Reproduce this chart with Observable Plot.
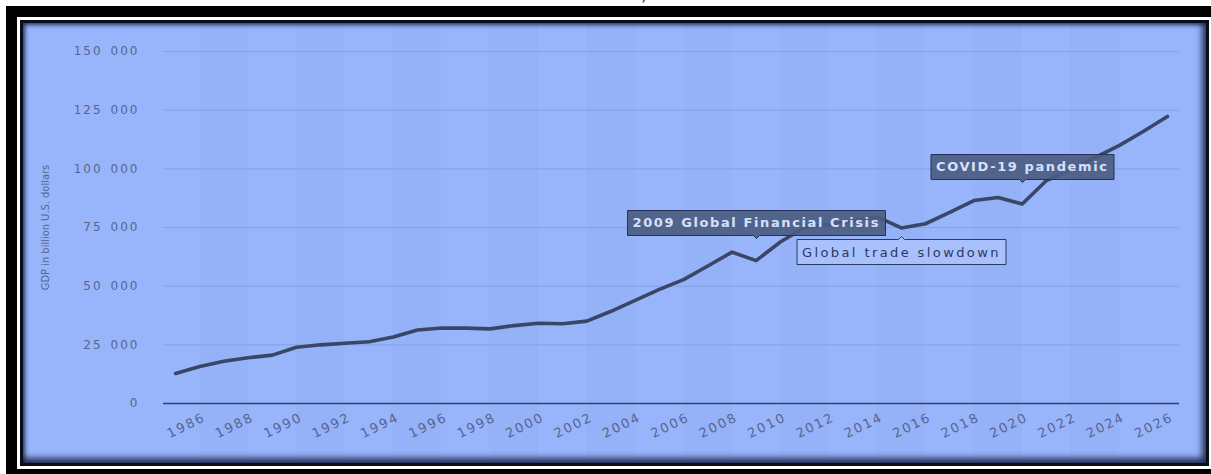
<!DOCTYPE html>
<html>
<head>
<meta charset="utf-8">
<script src="https://cdn.jsdelivr.net/npm/d3@7"></script>
<script src="https://cdn.jsdelivr.net/npm/@observablehq/plot@0.6"></script>
<style>
  html, body { margin: 0; padding: 0; background: #fff; width: 1211px; height: 474px; overflow: hidden; position: relative; }
  #frag { position: absolute; left: 641px; top: -15px; font: 16px "DejaVu Sans", sans-serif; color: #222; }
  #outer { position: absolute; left: 6px; top: 6px; width: 1215px; height: 480px; background: #000; }
  #gap { position: absolute; left: 17px; top: 17px; width: 1195px; height: 452px; background: #fff; }
  #inner { position: absolute; left: 20px; top: 20px; width: 1189px; height: 446px; background: #0a0e18; }
  #panel { position: absolute; left: 23px; top: 23px; width: 1183px; height: 440px; background: #98b5fb; overflow: hidden;
           box-shadow: inset -6px -7px 6px -2px rgba(25,35,70,.9), inset 3px 3px 4px -1px rgba(25,35,70,.9); }
  #panel svg { position: absolute; left: 0; top: 0; }
  g[aria-label="y-axis tick label"] text { letter-spacing: 2px; }
  g[aria-label="x-axis tick label"] text { letter-spacing: 2px; }
</style>
</head>
<body>
<div id="frag">)</div>
<div id="outer"></div>
<div id="gap"></div>
<div id="inner"></div>
<div id="panel"></div>
<script>
// ---- data ----
const years = [1985, 1986, 1987, 1988, 1989, 1990, 1991, 1992, 1993, 1994, 1995, 1996, 1997, 1998,
  1999, 2000, 2001, 2002, 2003, 2004, 2005, 2006, 2007, 2008, 2009, 2010, 2011, 2012, 2013, 2014,
  2015, 2016, 2017, 2018, 2019, 2020, 2021, 2022, 2023, 2024, 2025, 2026];
const gdp = [12800, 15800, 18000, 19500, 20600, 24000, 25000, 25700, 26300, 28300, 31300, 32200,
  32100, 31800, 33200, 34200, 34000, 35100, 39300, 43900, 48600, 52800, 58600, 64500, 60900,
  68800, 75000, 76300, 77800, 79500, 74800, 76600, 81400, 86500, 87800, 85000, 95000, 99700,
  104800, 109900, 115900, 122300];
const xTickYears = [1986, 1988, 1990, 1992, 1994, 1996, 1998, 2000, 2002, 2004, 2006, 2008, 2010,
  2012, 2014, 2016, 2018, 2020, 2022, 2024, 2026];
const yTicks = [0, 25000, 50000, 75000, 100000, 125000, 150000];
const stripeStarts = [1986, 1990, 1994, 1998, 2002, 2006, 2010, 2014, 2018, 2022];
const annotationYears = [2009, 2015, 2020];
const annotationLabels = ["2009 Global Financial Crisis", "Global trade slowdown", "COVID-19 pandemic"];
const yTitle = "GDP in billion U.S. dollars";

// ---- derived tables ----
const series = years.map((year, i) => ({year, gdp: gdp[i]}));
const valueAt = (y) => gdp[years.indexOf(y)];
const annotations = annotationYears.map((year, i) => ({year, gdp: valueAt(year), label: annotationLabels[i]}));
const fmtY = (d) => d3.format(",")(d).replace(/,/g, "\u2002");

const labelColor = "#56658f";
const darkTip = {fill: "#4c5c82", fillOpacity: 0.92, stroke: "#25325a", fontSize: 13, fontWeight: "bold",
  fontFamily: "DejaVu Sans", textPadding: 5, pointerSize: 6, lineWidth: 100, pathFilter: "none"};
const lightTip = {fill: "#a9c2fc", fillOpacity: 0.95, stroke: "#2c3a5e", fontSize: 13, fontWeight: "normal",
  fontFamily: "DejaVu Sans", textPadding: 5, pointerSize: 6, lineWidth: 100, pathFilter: "none"};

const chart = Plot.plot({
  width: 1183,
  height: 440,
  marginLeft: 140,
  marginRight: 27,
  marginTop: 28,
  marginBottom: 60,
  style: {background: "transparent", overflow: "visible", fontFamily: "DejaVu Sans, sans-serif"},
  x: {type: "linear", domain: [1984.5, 2026.5]},
  y: {domain: [0, 150000]},
  marks: [
    Plot.rect(stripeStarts, {x1: (d) => d, x2: (d) => d + 2, y1: -24000, y2: 162000, fill: "#1c2c66", fillOpacity: 0.022}),
    Plot.ruleY(yTicks.filter((d) => d > 0), {stroke: "#86a0e6", strokeWidth: 1}),
    Plot.ruleY([0], {stroke: "#34426a", strokeWidth: 1.5}),
    Plot.axisY({ticks: yTicks, tickSize: 0, tickPadding: 24, tickFormat: fmtY, color: labelColor, fontSize: 12, label: null}),
    Plot.axisX({ticks: xTickYears, tickSize: 0, tickPadding: 13, tickRotate: -26, textAnchor: "end", lineAnchor: "middle",
      dx: 5, tickFormat: (d) => String(d), color: labelColor, fontSize: 13, label: null}),
    Plot.text([yTitle], {frameAnchor: "left", textAnchor: "middle", rotate: -90, dx: -118, fill: labelColor, fontSize: 11,
      fontFamily: "'Liberation Sans Narrow', 'DejaVu Sans Condensed', 'Roboto Condensed', sans-serif"}),
    Plot.line(series, {x: "year", y: "gdp", stroke: "#3a4666", strokeWidth: 3.6, strokeLinejoin: "round", strokeLinecap: "round"}),
    Plot.tip(annotations.filter((d) => d.year === 2009), {x: "year", y: "gdp", title: "label", anchor: "bottom", dy: -22, ...darkTip}),
    Plot.tip(annotations.filter((d) => d.year === 2015), {x: "year", y: "gdp", title: "label", anchor: "top", dy: 9, ...lightTip}),
    Plot.tip(annotations.filter((d) => d.year === 2020), {x: "year", y: "gdp", title: "label", anchor: "bottom", dy: -22, ...darkTip})
  ]
});
document.getElementById("panel").appendChild(chart);
const tips = chart.querySelectorAll('g[aria-label="tip"]');
const tipStyles = [
  {color: "#d6e0fa", ls: "1.6px"},
  {color: "#2c3a5e", ls: "2.4px"},
  {color: "#d6e0fa", ls: "1.6px"}
];
tips.forEach((g, i) => {
  const s = tipStyles[i] || tipStyles[0];
  g.style.color = s.color;
  g.style.letterSpacing = s.ls;
});
</script>
</body>
</html>
